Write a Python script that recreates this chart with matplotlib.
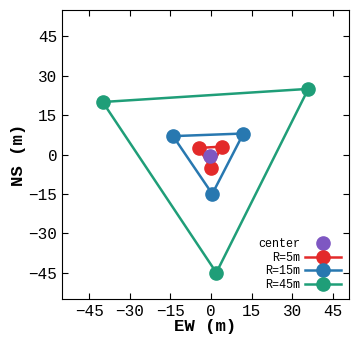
import matplotlib
matplotlib.use('Agg')
import matplotlib.pyplot as plt

# station positions (m)
center_x = [-0.5]
center_y = [-0.5]
r5_x = [-4.5, 4, 0]
r5_y = [2.5, 3, -5]
r15_x = [-14, 12, 0.5]
r15_y = [7, 8, -15]
r45_x = [-40, 36, 2]
r45_y = [20, 25, -45]

ticks = [-45, -30, -15, 0, 15, 30, 45]

plt.rcParams['font.family'] = ['Liberation Mono', 'DejaVu Sans Mono']

fig = plt.figure(figsize=(3.51, 3.37), dpi=100)
ax = fig.add_axes([0.177, 0.113, 0.817, 0.857])

ms = 9.5
lw = 1.8
ax.plot(r45_x + r45_x[:1], r45_y + r45_y[:1], '-', color='#1f9e78', lw=lw)
ax.plot(r45_x, r45_y, 'o', color='#1f9e78', ms=ms)
ax.plot(r15_x + r15_x[:1], r15_y + r15_y[:1], '-', color='#2878b0', lw=lw)
ax.plot(r15_x, r15_y, 'o', color='#2878b0', ms=ms)
ax.plot(r5_x + r5_x[:1], r5_y + r5_y[:1], '-', color='#e32a2a', lw=lw)
ax.plot(r5_x, r5_y, 'o', color='#e32a2a', ms=ms)
ax.plot(center_x, center_y, 'o', color='#7e57c2', ms=ms)

# legend handles
h0, = ax.plot([], [], 'o', color='#7e57c2', ms=ms)
h1, = ax.plot([], [], 'o-', color='#e32a2a', ms=ms, lw=lw)
h2, = ax.plot([], [], 'o-', color='#2878b0', ms=ms, lw=lw)
h3, = ax.plot([], [], 'o-', color='#1f9e78', ms=ms, lw=lw)
ax.legend([h0, h1, h2, h3], ['center', 'R=5m', 'R=15m', 'R=45m'],
          loc='lower right', frameon=False, markerfirst=False,
          fontsize=8.5, handlelength=3.0, labelspacing=0.12,
          borderaxespad=0.3, handletextpad=0.4)

ax.set_xlim(-55, 51)
ax.set_ylim(-55, 55)
ax.set_xticks(ticks)
ax.set_yticks(ticks)
ax.tick_params(direction='in', top=True, right=True, labelsize=11.5, length=4)
ax.set_xlabel('EW (m)', fontsize=12.5, fontweight='bold', labelpad=0)
ax.set_ylabel('NS (m)', fontsize=12.5, fontweight='bold', labelpad=2)

fig.savefig('out.png', dpi=100)
